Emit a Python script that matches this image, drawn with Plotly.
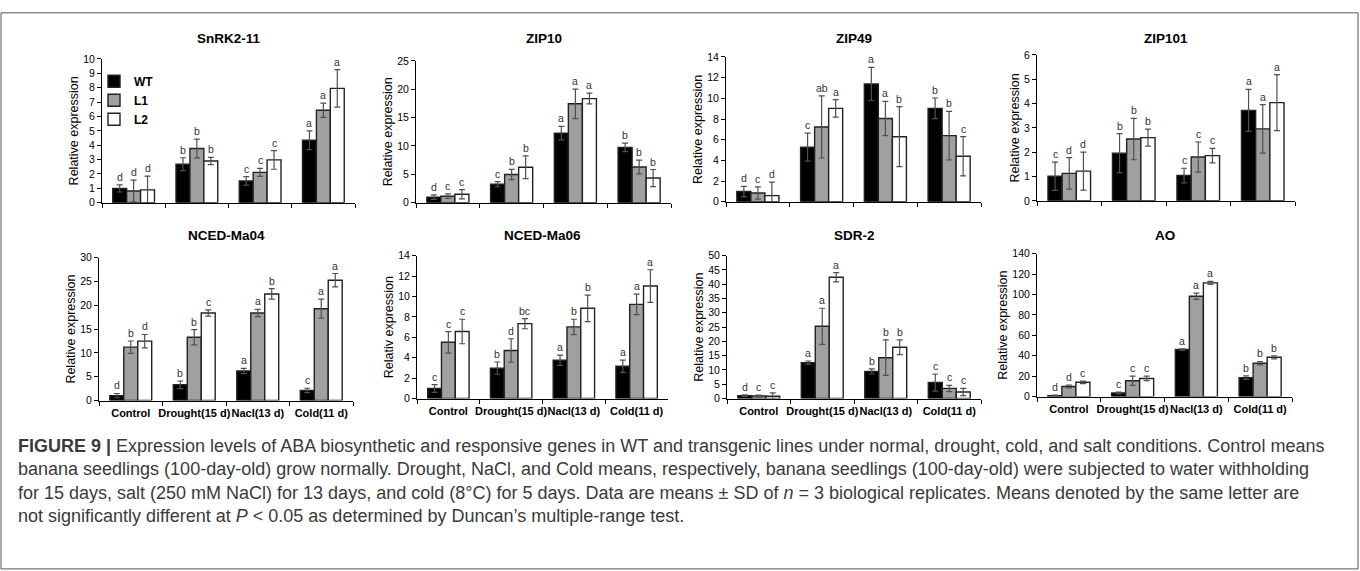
import plotly.graph_objects as go

# ---------------- data ----------------
categories = ["Control", "Drought(15 d)", "Nacl(13 d)", "Cold(11 d)"]
line_names = ["WT", "L1", "L2"]
gene_names = ["SnRK2-11", "ZIP10", "ZIP49", "ZIP101",
              "NCED-Ma04", "NCED-Ma06", "SDR-2", "AO"]
y_titles = ["Relative expression", "Relative expression", "Relative expression",
            "Relative expression", "Relative expression", "Relativ expression",
            "Relative expression", "Relative expression"]
y_max = [10, 25, 14, 6, 30, 14, 50, 140]
y_step = [1, 5, 2, 1, 5, 2, 5, 20]

# rows: WT, L1, L2 ; columns: Control, Drought, NaCl, Cold
snrk2_11_mean = [[1.0, 2.68, 1.52, 4.34], [0.82, 3.77, 2.11, 6.43], [0.9, 2.9, 2.98, 7.95]]
snrk2_11_sd = [[0.25, 0.45, 0.3, 0.65], [0.75, 0.65, 0.28, 0.5], [0.95, 0.25, 0.65, 1.3]]
snrk2_11_letters = [["d", "b", "c", "a"], ["d", "b", "c", "a"], ["d", "b", "c", "a"]]

zip10_mean = [[1.0, 3.27, 12.27, 9.75], [1.15, 4.99, 17.43, 6.3], [1.5, 6.25, 18.35, 4.36]]
zip10_sd = [[0.4, 0.45, 1.2, 0.75], [0.4, 0.9, 2.6, 1.2], [0.8, 2.0, 0.95, 1.5]]
zip10_letters = [["d", "c", "a", "b"], ["c", "b", "a", "b"], ["c", "b", "a", "b"]]

zip49_mean = [[1.0, 5.28, 11.39, 9.03], [0.85, 7.23, 8.05, 6.39], [0.6, 9.03, 6.29, 4.4]]
zip49_sd = [[0.5, 1.35, 1.6, 1.0], [0.6, 3.0, 1.65, 2.35], [1.3, 0.85, 2.9, 1.9]]
zip49_letters = [["d", "c", "a", "b"], ["c", "ab", "a", "b"], ["d", "a", "b", "c"]]

zip101_mean = [[1.01, 1.96, 1.04, 3.72], [1.13, 2.54, 1.8, 2.96], [1.22, 2.6, 1.86, 4.04]]
zip101_sd = [[0.58, 0.8, 0.3, 0.86], [0.65, 0.85, 0.62, 1.0], [0.78, 0.35, 0.3, 1.15]]
zip101_letters = [["c", "b", "c", "a"], ["d", "b", "c", "a"], ["d", "b", "c", "a"]]

nced04_mean = [[1.03, 3.3, 6.19, 2.13], [11.2, 13.28, 18.38, 19.27], [12.46, 18.38, 22.37, 25.26]]
nced04_sd = [[0.45, 0.8, 0.55, 0.45], [1.3, 1.6, 0.75, 2.0], [1.4, 0.65, 1.1, 1.4]]
nced04_letters = [["d", "b", "a", "c"], ["b", "b", "a", "a"], ["d", "c", "b", "a"]]

nced06_mean = [[0.99, 2.98, 3.75, 3.17], [5.51, 4.71, 7.02, 9.23], [6.57, 7.34, 8.84, 11.02]]
nced06_sd = [[0.38, 0.6, 0.5, 0.6], [1.05, 1.15, 0.75, 1.0], [1.2, 0.5, 1.3, 1.6]]
nced06_letters = [["c", "b", "a", "a"], ["c", "d", "b", "a"], ["c", "bc", "b", "a"]]

sdr2_mean = [[1.03, 12.59, 9.5, 5.6], [0.92, 25.29, 14.3, 3.55], [0.8, 42.45, 17.96, 2.3]]
sdr2_sd = [[0.25, 0.55, 0.9, 3.0], [0.3, 6.3, 6.2, 1.1], [1.2, 1.6, 2.6, 1.3]]
sdr2_letters = [["d", "a", "b", "c"], ["c", "a", "b", "c"], ["c", "a", "b", "c"]]

ao_mean = [[1.0, 3.5, 46.1, 18.6], [9.86, 15.6, 98.3, 32.7], [14.0, 17.8, 111.4, 38.5]]
ao_sd = [[0.5, 0.9, 0.8, 1.8], [1.3, 4.5, 3.0, 1.7], [1.2, 2.2, 1.5, 1.5]]
ao_letters = [["d", "c", "a", "b"], ["d", "c", "a", "b"], ["c", "c", "a", "b"]]

caption_lines = [
    "<b>FIGURE 9 |</b> Expression levels of ABA biosynthetic and responsive genes in WT and transgenic lines under normal, drought, cold, and salt conditions. Control means",
    "banana seedlings (100-day-old) grow normally. Drought, NaCl, and Cold means, respectively, banana seedlings (100-day-old) were subjected to water withholding",
    "for 15 days, salt (250 mM NaCl) for 13 days, and cold (8°C) for 5 days. Data are means ± SD of <i>n</i> = 3 biological replicates. Means denoted by the same letter are",
    "not significantly different at <i>P</i> &lt; 0.05 as determined by Duncan’s multiple-range test.",
]

all_means = [snrk2_11_mean, zip10_mean, zip49_mean, zip101_mean,
             nced04_mean, nced06_mean, sdr2_mean, ao_mean]
all_sds = [snrk2_11_sd, zip10_sd, zip49_sd, zip101_sd,
           nced04_sd, nced06_sd, sdr2_sd, ao_sd]
all_letters = [snrk2_11_letters, zip10_letters, zip49_letters, zip101_letters,
               nced04_letters, nced06_letters, sdr2_letters, ao_letters]

# ---------------- layout / style ----------------
W, H = 1360, 571
FONT = "Liberation Sans, Arial, sans-serif"
bar_colors = ["#000000", "#a0a0a0", "#ffffff"]
BARGAP = 0.34

x_px = [(102, 355), (416, 671), (726, 981), (1037, 1295),
        (99, 353), (417, 668), (727, 981), (1037, 1292)]
y_px = [(54, 201), (56, 201), (52, 200), (50, 199),
        (257, 403), (255, 401), (255, 401), (253, 399)]
title_y_px = [33, 33, 33, 33, 234, 234, 234, 234]

fig = go.Figure()
layout = dict(
    width=W, height=H,
    margin=dict(l=0, r=0, t=0, b=0),
    paper_bgcolor="white", plot_bgcolor="white",
    barmode="group", bargap=BARGAP, bargroupgap=0,
    font=dict(family=FONT, color="black"),
    showlegend=True,
    legend=dict(x=94 / W, y=1 - 62 / H, xanchor="left", yanchor="top",
                bgcolor="rgba(0,0,0,0)", borderwidth=0,
                font=dict(family=FONT, size=12, color="black", weight="bold"),
                traceorder="normal", itemwidth=30),
)
annotations = []

for i in range(8):
    n = "" if i == 0 else str(i + 1)
    xa, ya = "x" + n, "y" + n
    x0, x1 = x_px[i]
    ytop, ybot = y_px[i]
    layout["xaxis" + n] = dict(
        domain=[x0 / W, x1 / W], anchor=ya, type="category",
        categoryorder="array", categoryarray=categories,
        showline=True, linecolor="black", linewidth=1,
        ticks="outside", tickson="boundaries", ticklen=4, tickcolor="black",
        showticklabels=(i >= 4), tickangle=0, ticklabelstandoff=2,
        tickfont=dict(family=FONT, size=11, color="black", weight="bold"),
        showgrid=False, zeroline=False, fixedrange=True,
    )
    layout["yaxis" + n] = dict(
        domain=[1 - ybot / H, 1 - ytop / H], anchor=xa,
        range=[0, y_max[i]], tick0=0, dtick=y_step[i],
        showline=True, linecolor="black", linewidth=1,
        ticks="outside", ticklen=4, tickcolor="black",
        tickfont=dict(family=FONT, size=10.5, color="black"),
        showgrid=False, zeroline=False, fixedrange=True,
        title=dict(text=y_titles[i], font=dict(family=FONT, size=12.5, color="black"),
                   standoff=1),
    )
    group_px = (x1 - x0) / 4
    bar_px = group_px * (1 - BARGAP) / 3
    for k in range(3):
        fig.add_trace(go.Bar(
            x=categories, y=all_means[i][k], name=line_names[k],
            xaxis=xa, yaxis=ya, legendgroup=line_names[k], showlegend=(i == 0),
            marker=dict(color=bar_colors[k], line=dict(color="#222222", width=1.4)),
            error_y=dict(type="data", array=all_sds[i][k], visible=True,
                         color="#505050", thickness=1.2, width=3),
            hoverinfo="skip",
        ))
        for j, cat in enumerate(categories):
            annotations.append(dict(
                x=cat, y=all_means[i][k][j] + all_sds[i][k][j], xref=xa, yref=ya,
                text=all_letters[i][k][j], showarrow=False, yanchor="bottom",
                xshift=(k - 1) * bar_px, yshift=0,
                font=dict(family=FONT, size=10.5, color="#333333"),
            ))
    annotations.append(dict(
        x=(x0 + x1) / 2 / W, y=1 - title_y_px[i] / H, xref="paper", yref="paper",
        text="<b>" + gene_names[i] + "</b>", showarrow=False,
        xanchor="center", yanchor="middle",
        font=dict(family=FONT, size=13.5, color="black"),
    ))

caption_y_px = [449, 473, 497, 521]
for t, yy in zip(caption_lines, caption_y_px):
    annotations.append(dict(
        x=16 / W, y=1 - yy / H, xref="paper", yref="paper", text=t,
        showarrow=False, xanchor="left", yanchor="middle", align="left",
        font=dict(family=FONT, size=18, color="#3a3a3a"),
    ))

layout["annotations"] = annotations
layout["shapes"] = [dict(type="rect", xref="paper", yref="paper",
                         x0=1 / W, x1=1358 / W, y0=1 - 575 / H, y1=1 - 7 / H,
                         line=dict(color="#555555", width=1), fillcolor="rgba(0,0,0,0)")]
fig.update_layout(**layout)
fig.write_html("out.html", config={"displayModeBar": False},
               post_script="document.body.style.margin='0px';document.body.style.padding='0px';")
